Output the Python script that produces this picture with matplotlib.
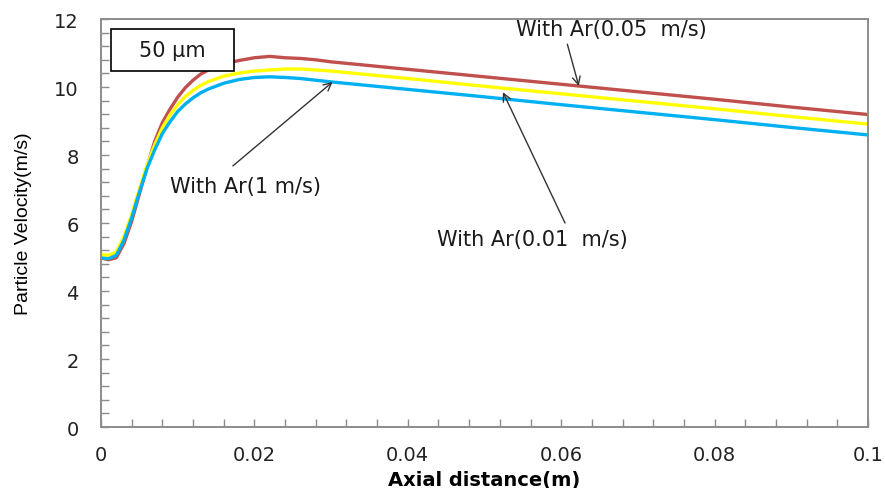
import matplotlib.pyplot as plt
from matplotlib.patches import Rectangle
from matplotlib.ticker import MultipleLocator

# --- Data ---
x_pts = [0, 0.001, 0.002, 0.003, 0.004, 0.005, 0.006, 0.007, 0.008, 0.009,
         0.010, 0.011, 0.012, 0.013, 0.014, 0.016, 0.018, 0.020, 0.022, 0.024,
         0.026, 0.028, 0.030, 0.04, 0.05, 0.06, 0.07, 0.08, 0.09, 0.1]

v_005 = [4.97, 4.92, 4.98, 5.4, 6.05, 6.85, 7.65, 8.4, 8.95, 9.35,
         9.7, 9.98, 10.2, 10.38, 10.5, 10.68, 10.78, 10.86, 10.9, 10.86,
         10.84, 10.8, 10.74, 10.52, 10.3, 10.08, 9.86, 9.64, 9.41, 9.19]

v_001 = [5.07, 5.05, 5.15, 5.6, 6.25, 7.0, 7.7, 8.3, 8.8, 9.18,
         9.48, 9.72, 9.9, 10.05, 10.16, 10.32, 10.41, 10.47, 10.5, 10.53,
         10.53, 10.5, 10.47, 10.25, 10.02, 9.8, 9.58, 9.36, 9.13, 8.91]

v_1 = [4.97, 4.95, 5.05, 5.5, 6.15, 6.9, 7.6, 8.15, 8.63, 8.98,
       9.28, 9.5, 9.68, 9.83, 9.94, 10.11, 10.22, 10.28, 10.3, 10.28,
       10.25, 10.2, 10.15, 9.93, 9.71, 9.48, 9.26, 9.04, 8.81, 8.59]

x_ticks = [0, 0.02, 0.04, 0.06, 0.08, 0.1]
x_tick_labels = ['0', '0.02', '0.04', '0.06', '0.08', '0.1']
y_ticks = [0, 2, 4, 6, 8, 10, 12]

fig = plt.figure(figsize=(8.85, 4.89), dpi=100)
ax = fig.add_axes([0.1141, 0.1247, 0.8667, 0.8344])

ax.plot(x_pts, v_005, color='#C0504D', lw=2.4)
ax.plot(x_pts, v_001, color='#FFFF00', lw=2.4)
ax.plot(x_pts, v_1, color='#00B0F0', lw=2.4)

ax.set_xlim(0, 0.1)
ax.set_ylim(0, 12)
ax.set_xticks(x_ticks)
ax.set_xticklabels(x_tick_labels)
ax.set_yticks(y_ticks)
ax.xaxis.set_minor_locator(MultipleLocator(0.004))
ax.yaxis.set_minor_locator(MultipleLocator(0.4))

grey = '#8c8c8c'
for side in ['left', 'bottom', 'right', 'top']:
    ax.spines[side].set_color(grey)
    ax.spines[side].set_linewidth(1.4)
ax.tick_params(which='both', direction='in', length=6, color=grey, width=1,
               labelsize=14, labelcolor='#222222')
ax.tick_params(axis='y', pad=16)
ax.tick_params(axis='x', pad=13)

ax.set_xlabel('Axial distance(m)', fontsize=14, fontweight='bold', labelpad=4)
ax.set_ylabel('Particle Velocity(m/s)', fontsize=14,
              family=['Liberation Sans', 'DejaVu Sans'], labelpad=16)

# --- Annotations: arrows drawn from their start point, texts placed apart ---
arrow = dict(arrowstyle='->', color='#333333', lw=1, shrinkA=0, shrinkB=0,
             mutation_scale=14)
ax.annotate('', xy=(0.0623, 10.03), xytext=(0.0608, 11.26), arrowprops=arrow)
ax.annotate('', xy=(0.0524, 9.85), xytext=(0.0605, 6.0), arrowprops=arrow)
ax.annotate('', xy=(0.0302, 10.15), xytext=(0.0172, 7.68), arrowprops=arrow)

txt = dict(ha='center', va='center', fontsize=15, color='#1a1a1a')
ax.text(0.0666, 11.72, 'With Ar(0.05  m/s)', **txt)
ax.text(0.0562, 5.53, 'With Ar(0.01  m/s)', **txt)
ax.text(0.0189, 7.09, 'With Ar(1 m/s)', **txt)

ax.add_patch(Rectangle((0.0013, 10.47), 0.016, 1.24, fc='white', ec='black',
                       lw=1.2, zorder=5))
ax.text(0.0093, 11.1, '50 \u03bcm', zorder=6, **txt)

fig.savefig('out.png', dpi=100)
